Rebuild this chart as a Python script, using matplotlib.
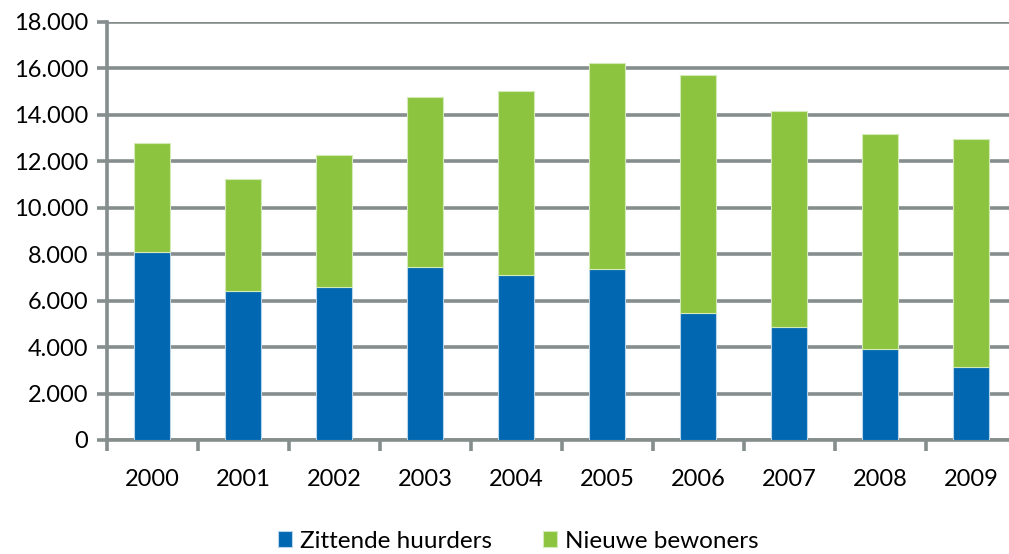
import matplotlib
matplotlib.use("Agg")
import matplotlib.pyplot as plt
import numpy as np
from matplotlib.ticker import FuncFormatter, FixedLocator

years = ["2000", "2001", "2002", "2003", "2004", "2005", "2006", "2007", "2008", "2009"]
zittende = [8100, 6420, 6590, 7450, 7110, 7370, 5470, 4870, 3920, 3150]
totaal = [12790, 11250, 12280, 14770, 15030, 16230, 15720, 14170, 13180, 12960]
nieuwe = [t - z for t, z in zip(totaal, zittende)]
yticks = [0, 2000, 4000, 6000, 8000, 10000, 12000, 14000, 16000, 18000]

plt.rcParams['font.family'] = ['Lato', 'DejaVu Sans']

fig = plt.figure(figsize=(10.09, 5.54), dpi=100)
ax = fig.add_axes([106.5/1009, 1-440/554, 910/1009, (440-22)/554])

grid_col = '#858d8d'
x = np.arange(len(years))
ax.bar(x, zittende, width=0.40, color='#0067b0', edgecolor='#b8d4ea', linewidth=0.8, label='Zittende huurders', zorder=3)
ax.bar(x, nieuwe, width=0.40, bottom=zittende, color='#8cc43f', edgecolor='#d4eab8', linewidth=0.8, label='Nieuwe bewoners', zorder=3)

ax.set_xlim(-0.5, len(years) - 0.5)
ax.set_ylim(0, 18000)
ax.set_yticks(yticks)
ax.yaxis.set_major_formatter(FuncFormatter(lambda v, p: f"{int(v):,}".replace(",", ".")))
ax.yaxis.grid(True, color=grid_col, linewidth=2.6, zorder=0)
ax.set_axisbelow(True)

ax.set_xticks(x)
ax.set_xticklabels(years)
ax.xaxis.set_minor_locator(FixedLocator(np.arange(-0.5, len(years), 1.0)))
ax.tick_params(axis='x', which='major', length=0, pad=21, labelsize=17)
ax.tick_params(axis='x', which='minor', length=8, width=2.6, color=grid_col)
ax.tick_params(axis='y', length=7, width=2.6, color=grid_col, labelsize=17, pad=6)

for s in ['top', 'right']:
    ax.spines[s].set_visible(False)
for s in ['left', 'bottom']:
    ax.spines[s].set_color(grid_col)
    ax.spines[s].set_linewidth(2.6)

leg = fig.legend(loc='center', bbox_to_anchor=(518/1009, 1-541/554), ncol=2, frameon=False,
                 fontsize=17.5, handlelength=0.6, handleheight=0.6, handletextpad=0.3, columnspacing=2.1)

fig.savefig('out.png', dpi=100)
